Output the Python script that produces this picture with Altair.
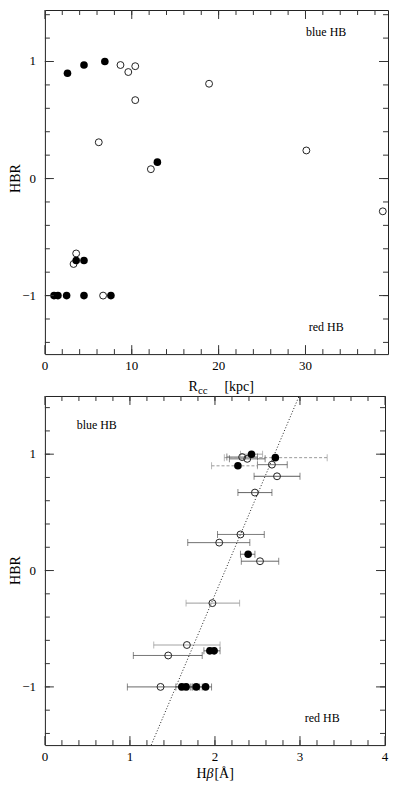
import altair as alt
import pandas as pd

FONT = "Liberation Serif"

# ---------------- top panel: HBR vs R_cc [kpc] ----------------
top_open_r = [8.7, 9.6, 10.4, 10.4, 6.2, 12.2, 18.9, 30.1, 38.9, 3.6, 3.3, 6.7]
top_open_hbr = [0.97, 0.91, 0.96, 0.67, 0.31, 0.08, 0.81, 0.24, -0.28, -0.64, -0.73, -1.0]
top_fill_r = [2.6, 4.5, 6.9, 12.95, 3.6, 4.5, 1.05, 1.5, 2.5, 4.5, 7.6]
top_fill_hbr = [0.90, 0.97, 1.00, 0.14, -0.70, -0.70, -1.0, -1.0, -1.0, -1.0, -1.0]

# ---------------- bottom panel: HBR vs H-beta [A] ----------------
bot_open_hb = [2.32, 2.38, 2.67, 2.73, 2.47, 2.30, 2.05, 2.53, 1.97, 1.67, 1.45, 1.36]
bot_open_hbr = [0.975, 0.96, 0.91, 0.81, 0.67, 0.31, 0.24, 0.08, -0.28, -0.64, -0.73, -1.0]
bot_open_lo = [2.14, 2.17, 2.50, 2.46, 2.27, 2.03, 1.68, 2.31, 1.66, 1.28, 1.04, 0.97]
bot_open_hi = [2.50, 2.59, 2.85, 3.00, 2.67, 2.58, 2.41, 2.75, 2.29, 2.06, 1.85, 1.74]
bot_open_err = ["dark", "dark", "dark", "dark", "dark", "dark", "dark", "dark",
                "light", "light", "dark", "dark"]

bot_fill_hb = [2.43, 2.71, 2.27, 2.39, 1.94, 1.99, 1.61, 1.66, 1.78, 1.89]
bot_fill_hbr = [1.00, 0.97, 0.90, 0.14, -0.69, -0.69, -1.0, -1.0, -1.0, -1.0]
bot_fill_lo = [2.30, 2.11, 1.96, 2.30, 1.87, 1.92, 1.54, 1.59, 1.71, 1.82]
bot_fill_hi = [2.56, 3.32, 2.50, 2.47, 2.00, 2.06, 1.68, 1.73, 1.85, 1.96]
bot_fill_err = ["light", "dash", "dash", "dark", "dark", "dark", "dark", "dark", "dark", "dark"]

# dotted relation line (end points)
line_hb = [1.25, 2.99]
line_hbr = [-1.5, 1.5]

# ---------------- tick values / labels ----------------
top_x_major = [0, 10, 20, 30]
top_x_minor = list(range(2, 40, 2))
bot_x_major = [0, 1, 2, 3, 4]
bot_x_minor = [round(0.2 * i, 1) for i in range(1, 20)]
y_major = [-1, 0, 1]
y_minor = [round(-1.4 + 0.2 * i, 1) for i in range(15)]

ann_text = ["blue HB", "red HB"]

top_open = pd.DataFrame({"x": top_open_r, "y": top_open_hbr})
top_fill = pd.DataFrame({"x": top_fill_r, "y": top_fill_hbr})
bot_open = pd.DataFrame({"x": bot_open_hb, "y": bot_open_hbr, "lo": bot_open_lo,
                         "hi": bot_open_hi, "err": bot_open_err})
bot_fill = pd.DataFrame({"x": bot_fill_hb, "y": bot_fill_hbr, "lo": bot_fill_lo,
                         "hi": bot_fill_hi, "err": bot_fill_err})
bot_err = pd.concat([bot_open, bot_fill], ignore_index=True)
line_df = pd.DataFrame({"x": line_hb, "y": line_hbr})
one = pd.DataFrame({"a": [0]})

TICK = "#333333"


def tick_layers(xs, ys, W, H, xmaj, xmin, ymaj, ymin):
    out = []
    for vals, ln in ((xmaj, 9), (xmin, 5)):
        d = pd.DataFrame({"v": vals})
        base = alt.Chart(d).mark_rule(color=TICK, strokeWidth=1)
        xe = alt.X("v:Q", scale=xs, axis=None)
        out.append(base.encode(x=xe, y=alt.value(H), y2=alt.value(H - ln)))
        out.append(base.encode(x=xe, y=alt.value(0), y2=alt.value(ln)))
    for vals, ln in ((ymaj, 9), (ymin, 5)):
        d = pd.DataFrame({"v": vals})
        base = alt.Chart(d).mark_rule(color=TICK, strokeWidth=1)
        ye = alt.Y("v:Q", scale=ys, axis=None)
        out.append(base.encode(y=ye, x=alt.value(0), x2=alt.value(ln)))
        out.append(base.encode(y=ye, x=alt.value(W), x2=alt.value(W - ln)))
    return out


def label_layers(xs, ys, H, xlab, ylab):
    xl = alt.Chart(pd.DataFrame({"v": xlab})).mark_text(
        font=FONT, fontSize=13, color="black", baseline="top", align="center").encode(
        x=alt.X("v:Q", scale=xs, axis=None), y=alt.value(H + 6),
        text=alt.Text("v:Q", format="d"))
    yl = alt.Chart(pd.DataFrame({"v": ylab})).mark_text(
        font=FONT, fontSize=13, color="black", baseline="middle", align="right").encode(
        y=alt.Y("v:Q", scale=ys, axis=None), x=alt.value(-9),
        text=alt.Text("v:Q", format="d"))
    return [xl, yl]


def text_at(txt, x, y, size=14, align="left", angle=0, style="normal"):
    kw = dict(text=txt, font=FONT, fontSize=size, align=align, baseline="alphabetic",
              color="black", fontStyle=style)
    if angle:
        kw.update(angle=angle, baseline="middle", align="center")
    return alt.Chart(one).mark_text(**kw).encode(x=alt.value(x), y=alt.value(y))


def open_pts(df, xs, ys):
    return alt.Chart(df).mark_point(shape="circle", filled=False, size=48, strokeWidth=1,
                                    color="#222", opacity=1).encode(
        x=alt.X("x:Q", scale=xs, axis=None), y=alt.Y("y:Q", scale=ys, axis=None))


def fill_pts(df, xs, ys):
    return alt.Chart(df).mark_circle(size=58, color="black", opacity=1).encode(
        x=alt.X("x:Q", scale=xs, axis=None), y=alt.Y("y:Q", scale=ys, axis=None))


# ---------------- top panel ----------------
W1, H1 = 344, 345
xs1 = alt.Scale(domain=[0, 39.5], nice=False, zero=False)
ys1 = alt.Scale(domain=[-1.5, 1.44], nice=False, zero=False)

top = alt.layer(
    open_pts(top_open, xs1, ys1),
    fill_pts(top_fill, xs1, ys1),
    *tick_layers(xs1, ys1, W1, H1, top_x_major, top_x_minor, y_major, y_minor),
    *label_layers(xs1, ys1, H1, top_x_major, y_major),
    text_at(ann_text[0], 282, 26, size=12, align="center"),
    text_at(ann_text[1], 282, 322, size=12, align="center"),
    text_at("HBR", -29, 169, angle=270),
    text_at("R", 144, 382, size=14),
    text_at("cc", 153.5, 385, size=11),
    text_at("[kpc]", 180, 382, size=14),
).properties(width=W1, height=H1)

# ---------------- bottom panel ----------------
W2, H2 = 341, 350
xs2 = alt.Scale(domain=[0, 4], nice=False, zero=False)
ys2 = alt.Scale(domain=[-1.5, 1.5], nice=False, zero=False)

err_color = alt.Color("err:N", scale=alt.Scale(domain=["dark", "light", "dash"],
                                               range=["#555555", "#9a9a9a", "#9a9a9a"]), legend=None)
err_dash = alt.StrokeDash("err:N", scale=alt.Scale(domain=["dark", "light", "dash"],
                                                   range=[[1, 0], [1, 0], [3, 2]]), legend=None)

b_line = alt.Chart(line_df).mark_line(strokeDash=[1, 2], color="#222", strokeWidth=1).encode(
    x=alt.X("x:Q", scale=xs2, axis=None), y=alt.Y("y:Q", scale=ys2, axis=None))
b_rule = alt.Chart(bot_err).mark_rule(strokeWidth=1).encode(
    x=alt.X("lo:Q", scale=xs2, axis=None), x2="hi:Q",
    y=alt.Y("y:Q", scale=ys2, axis=None), color=err_color, strokeDash=err_dash)
b_caps = alt.Chart(bot_err).transform_fold(["lo", "hi"], as_=["end", "xv"]).mark_tick(
    orient="vertical", size=7, thickness=1).encode(
    x=alt.X("xv:Q", scale=xs2, axis=None), y=alt.Y("y:Q", scale=ys2, axis=None),
    color=err_color)

bottom = alt.layer(
    b_line, b_rule, b_caps,
    open_pts(bot_open, xs2, ys2),
    fill_pts(bot_fill, xs2, ys2),
    *tick_layers(xs2, ys2, W2, H2, bot_x_major, bot_x_minor, y_major, y_minor),
    *label_layers(xs2, ys2, H2, bot_x_major, y_major),
    text_at(ann_text[0], 52, 33, size=12, align="center"),
    text_at(ann_text[1], 278, 327, size=12, align="center"),
    text_at("HBR", -29, 175, angle=270),
    text_at("H", 152, 383, size=14),
    text_at("β", 162, 383, size=14, style="italic"),
    text_at("[Å]", 170, 383, size=14),
).properties(width=W2, height=H2)

chart = alt.vconcat(top, bottom, spacing=42, bounds="flush").properties(
    padding={"left": 0, "top": 0, "right": 0, "bottom": 0}
).configure_view(stroke="#222", strokeWidth=1)

chart.save("out.html", embed_options={"renderer": "svg", "actions": False})
